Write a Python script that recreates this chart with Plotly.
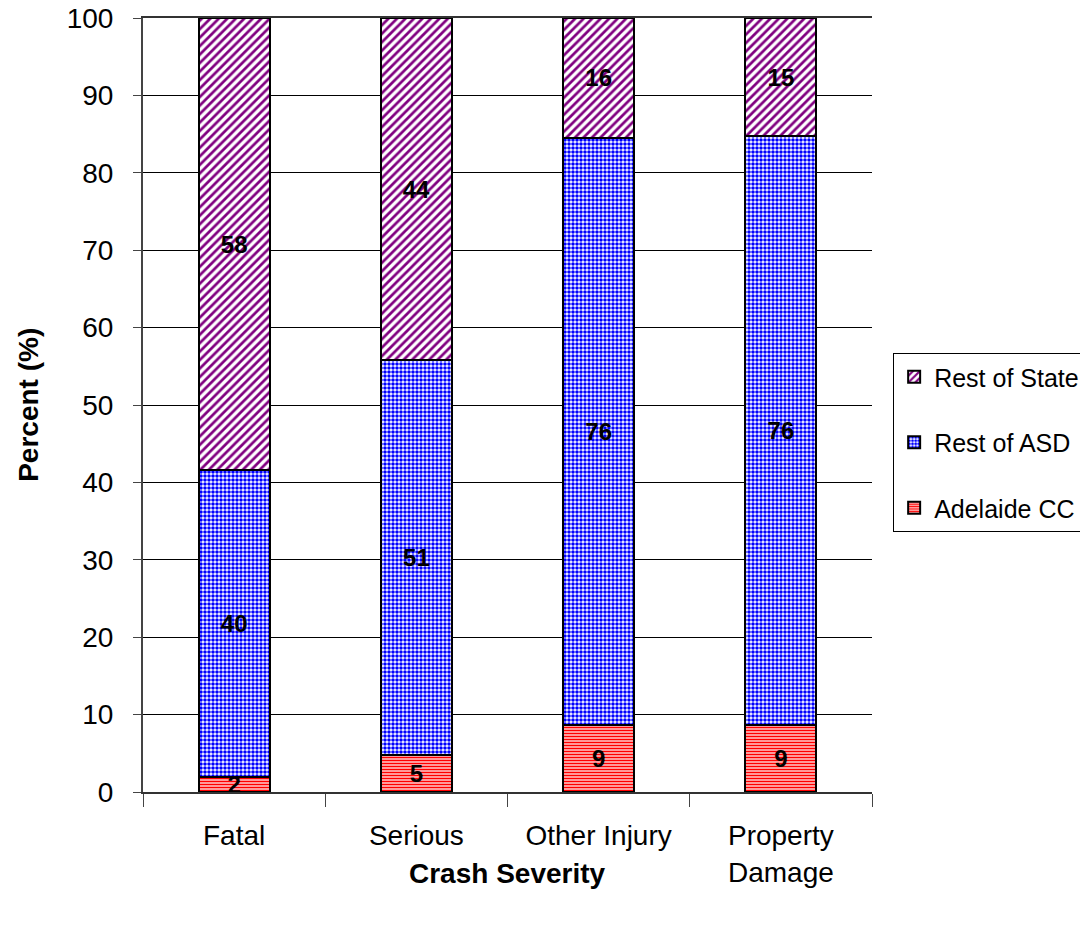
import plotly.graph_objects as go

categories = ["Fatal", "Serious", "Other Injury", "Property<br>Damage"]
adelaide_cc = [2.0, 4.8, 8.7, 8.7]
rest_of_asd = [39.6, 51.0, 75.8, 76.0]
rest_of_state = [58.4, 44.2, 15.5, 15.3]
y_ticks = [0, 10, 20, 30, 40, 50, 60, 70, 80, 90, 100]

FONT = "Arial, Liberation Sans, sans-serif"

series = [
    ("Adelaide CC", adelaide_cc, "#ff0000", "-", 3, 0.6, 3),
    ("Rest of ASD", rest_of_asd, "#0000ff", ".", 4, 0.62, 2),
    ("Rest of State", rest_of_state, "#800080", "/", 6, 0.45, 1),
]

fig = go.Figure()
for name, vals, col, shape, size, sol, rank in series:
    fig.add_trace(go.Bar(
        x=categories, y=vals, name=name, legendgroup=name, legendrank=rank,
        text=[f"{round(v):d}" for v in vals],
        textposition="inside", insidetextanchor="middle", textangle=0,
        constraintext="none",
        textfont=dict(family=FONT, size=24, color="black", weight="bold"),
        marker=dict(color="white", line=dict(color="black", width=2),
                    pattern=dict(shape=shape, fgcolor=col, bgcolor="white",
                                 fgopacity=1, size=size, solidity=sol,
                                 fillmode="overlay")),
    ))

fig.update_layout(
    barmode="stack", bargap=0.61,
    width=1080, height=949,
    margin=dict(l=143, r=208, t=18, b=157, autoexpand=False),
    paper_bgcolor="white", plot_bgcolor="white",
    font=dict(family=FONT, size=28, color="black"),
    uniformtext=dict(mode="show", minsize=24),
    showlegend=True,
    legend=dict(x=1.029, y=0.4515, xanchor="left", yanchor="middle",
                traceorder="grouped", tracegroupgap=30,
                bordercolor="black", borderwidth=1, bgcolor="white",
                font=dict(family=FONT, size=25, color="black")),
    xaxis=dict(showline=True, linecolor="#333", linewidth=1.5, mirror=True,
               automargin=False,
               ticks="outside", tickson="boundaries", ticklen=13,
               tickcolor="#444", tickwidth=1, ticklabelstandoff=18,
               tickfont=dict(family=FONT, size=28), showgrid=False),
    yaxis=dict(range=[0, 100], tickvals=y_ticks, showline=True, automargin=False,
               linecolor="#444", linewidth=2, ticks="outside", ticklen=8,
               tickcolor="#444", ticklabelstandoff=14, ticklabeloverflow="allow",
               tickfont=dict(family=FONT, size=28),
               showgrid=True, gridcolor="black", gridwidth=1, zeroline=False),
    annotations=[
        dict(text="<b>Crash Severity</b>", x=0.5, y=-0.105, xref="paper", yref="paper",
             xanchor="center", yanchor="middle", showarrow=False,
             font=dict(family=FONT, size=28)),
        dict(text="<b>Percent (%)</b>", x=-0.158, y=0.5, xref="paper", yref="paper",
             xanchor="center", yanchor="middle", showarrow=False, textangle=-90,
             font=dict(family=FONT, size=28)),
    ],
)

fig.write_html("out.html", config={"displayModeBar": False},
               post_script="document.body.style.margin='0';")
